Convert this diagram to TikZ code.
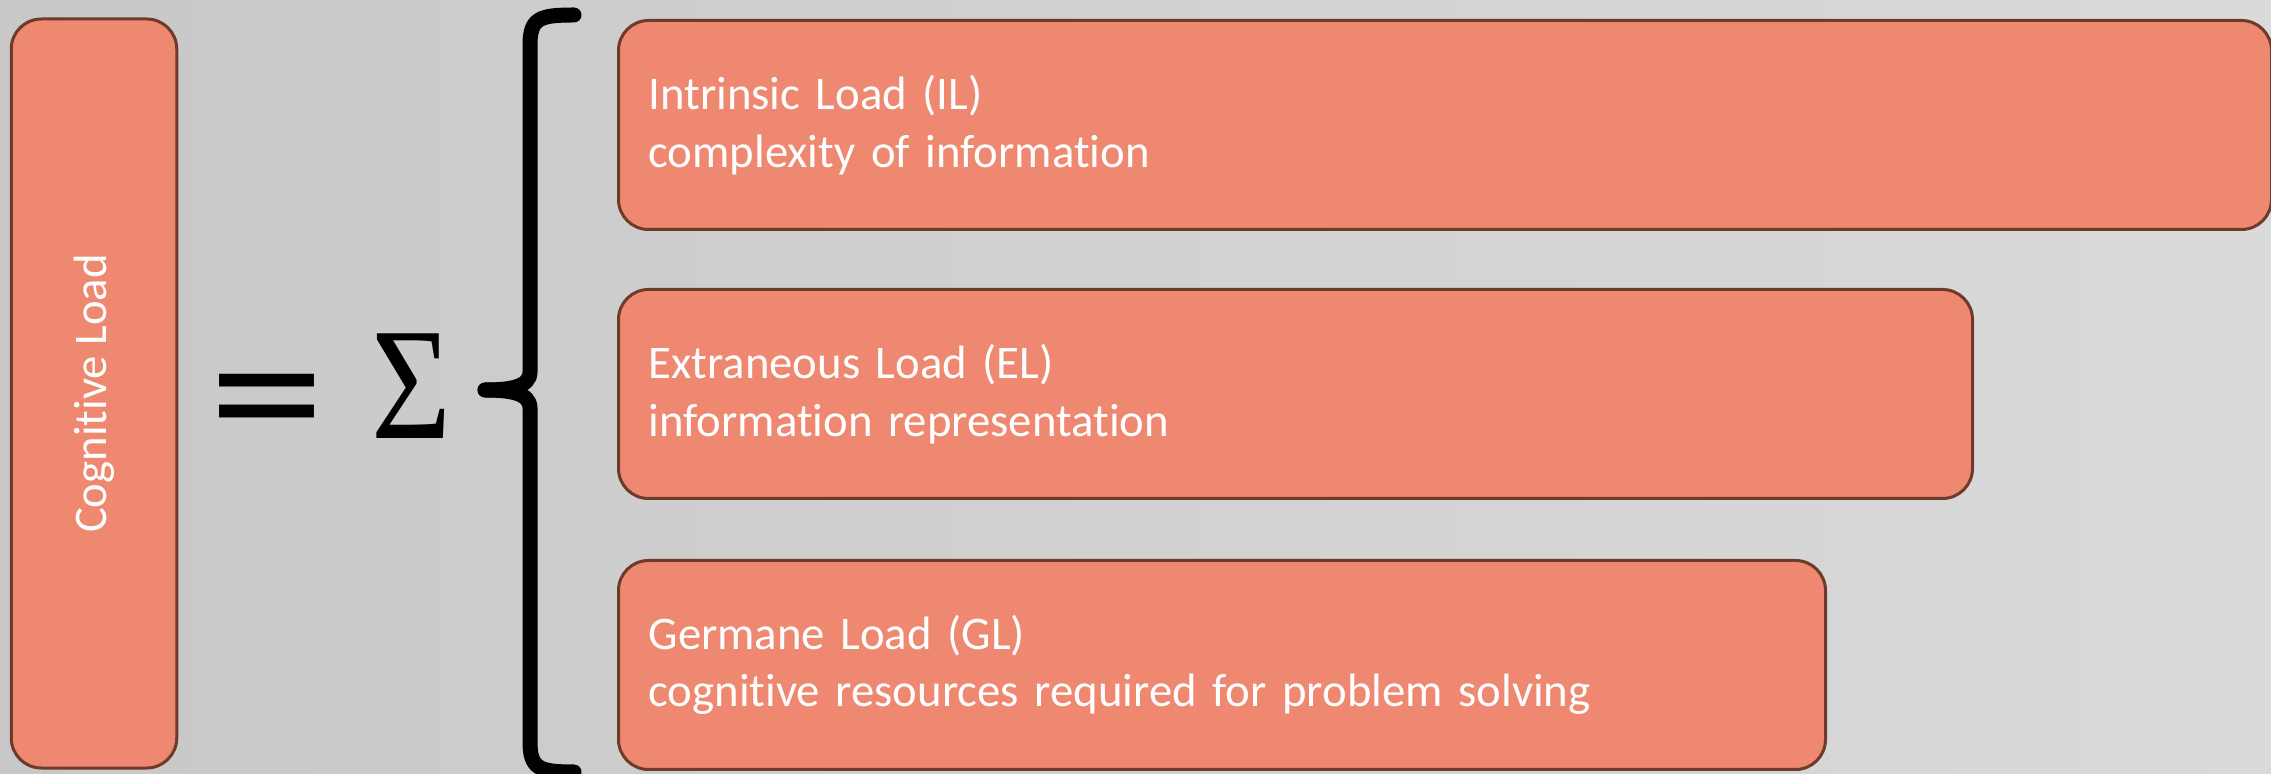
\documentclass[tikz,border=0pt]{standalone}
\usepackage{fontspec}
\setmainfont[Ligatures=NoCommon]{Carlito}
\newfontfamily\symfont{DejaVu Sans}
\newfontfamily\sumfont{Liberation Serif}
\definecolor{loadfill}{HTML}{EF8870}
\definecolor{loadedge}{HTML}{6E3A2A}
\definecolor{bgleft}{HTML}{C8C8C8}
\definecolor{bgmid}{HTML}{E9E9E9}
\definecolor{bgright}{HTML}{DADADA}
\begin{document}
\begin{tikzpicture}[
 loadbox/.style={draw=loadedge,line width=0.03cm,fill=loadfill,rounded corners=0.3cm,
   text=white,font=\fontsize{13.3}{16.4}\selectfont,align=left,
   inner xsep=0.3cm,minimum height=2.09cm,anchor=north west}]
 \useasboundingbox (0,0) rectangle (22.71,-7.74);
 \shade[left color=bgleft,middle color=bgmid,right color=bgright](0,0) rectangle (22.71,-7.74);
 \node[draw=loadedge,line width=0.03cm,fill=loadfill,rounded corners=0.3cm,
   minimum width=1.655cm,minimum height=7.49cm] (cl) at (0.94,-3.935) {};
 \node[rotate=90,text=white,font=\fontsize{13.3}{16.4}\selectfont] (cltext) at (cl.center) {Cognitive Load};
 \node[font=\symfont\fontsize{44}{44}\selectfont,xscale=0.98] (eq) at (2.665,-4.095) {=};
 \node[font=\sumfont\fontsize{45.5}{45.5}\selectfont,xscale=0.86] (sum) at (4.12,-3.86) {Σ};
 \draw[line width=0.15cm,line cap=round](5.74,-0.15) .. controls (5.40,-0.15) and (5.30,-0.18) .. (5.30,-0.45)
   -- (5.30,-3.72) .. controls (5.30,-3.87) and (5.10,-3.90) .. (4.85,-3.90);
 \draw[line width=0.15cm,line cap=round](5.74,-7.72) .. controls (5.40,-7.72) and (5.30,-7.69) .. (5.30,-7.42)
   -- (5.30,-4.08) .. controls (5.30,-3.93) and (5.10,-3.90) .. (4.85,-3.90);
 \node[loadbox,text width=15.93cm] (il) at (6.17,-0.19) {Intrinsic Load (IL)\\complexity of information};
 \node[loadbox,text width=12.94cm] (el) at (6.17,-2.88) {Extraneous Load (EL)\\information representation};
 \node[loadbox,text width=11.47cm] (gl) at (6.17,-5.59) {Germane Load (GL)\\cognitive resources required for problem solving};
\end{tikzpicture}
\end{document}
